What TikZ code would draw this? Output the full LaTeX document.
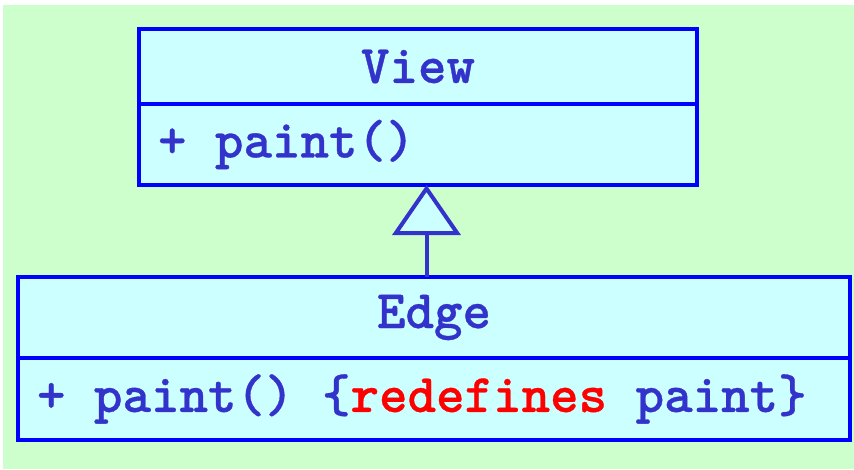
\documentclass[tikz,border=0pt]{standalone}
\usepackage{fontspec}
\newfontfamily\umlfont{lmmonolt10-bold}[Extension=.otf, FakeBold=0.6, WordSpace={1,0,0}]
\usepackage{xcolor}
\usetikzlibrary{positioning,arrows.meta}

\definecolor{bgfill}{HTML}{CCFFCC}
\definecolor{boxfill}{HTML}{CCFFFF}
\definecolor{boxline}{HTML}{0000FF}
\definecolor{umltext}{HTML}{3333CC}

\begin{document}
\begin{tikzpicture}[
    x=1pt, y=-1pt,
    node distance=0pt,
    compartment/.style={rectangle, draw=boxline, fill=boxfill, line width=4pt, outer sep=0pt, text=umltext, font={\umlfont\fontsize{54.3}{62}\selectfont}},
    namebox/.style={compartment, inner sep=0pt, align=center},
    opsbox/.style={compartment, inner xsep=19pt, inner ysep=0pt, align=flush left},
    inherit/.style={line width=4pt, draw=umltext, -{Triangle[open, fill=boxfill, length=50pt, width=68pt]}}
]
\useasboundingbox (0,0) rectangle (854,469);
\fill[bgfill] (3,5) rectangle (854,469);

% Superclass
\node[namebox, minimum width=558pt, minimum height=75pt] (viewname) at (418,66.5) {View};
\node[opsbox, text width=520pt, minimum height=81pt, below=of viewname] (viewops) {+ paint()};

% Subclass
\node[namebox, minimum width=832pt, minimum height=81pt] (edgename) at (434,317.5) {Edge};
\node[opsbox, text width=794pt, minimum height=82pt, below=of edgename] (edgeops) {+ paint() \{{\color{red}redefines} paint\}};

% Generalisation
\coordinate (stem) at (426.5,0);
\draw[inherit] (stem |- edgename.north) -- (stem |- viewops.south);

\end{tikzpicture}
\end{document}
